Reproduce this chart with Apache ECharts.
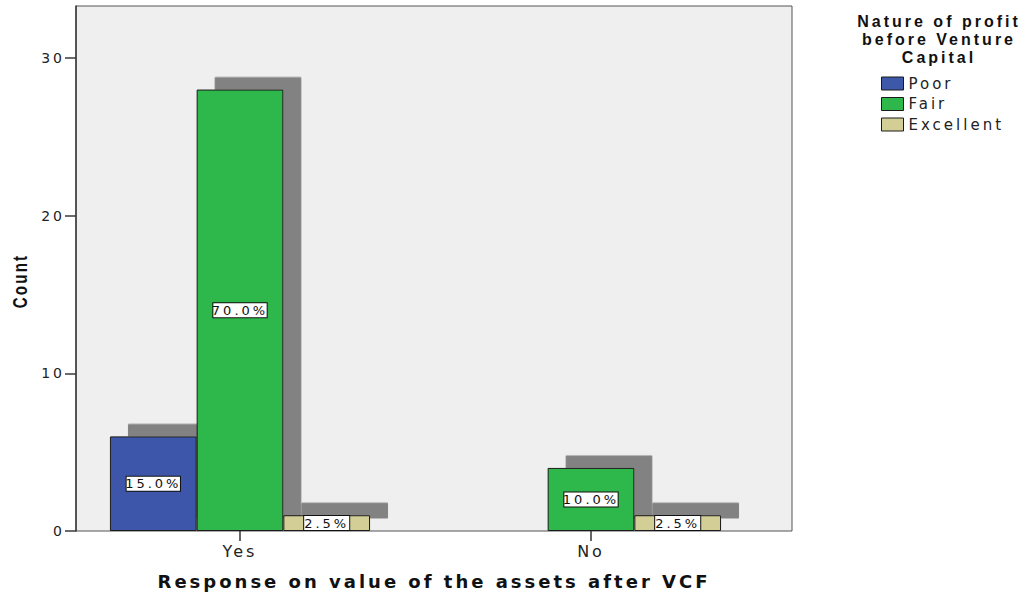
<!DOCTYPE html>
<html>
<head>
<meta charset="utf-8">
<script src="https://cdn.jsdelivr.net/npm/echarts@6/dist/echarts.min.js"></script>
<style>
  html, body { margin: 0; padding: 0; background: #fff; }
  #chart { width: 1026px; height: 597px; }
  /* SPSS draws its text with wide tracking */
  #chart svg text { letter-spacing: 3px; }
</style>
</head>
<body>
<div id="chart"></div>
<script>
// 数据
var categories = ['Yes', 'No'];
var seriesNames = ['Poor', 'Fair', 'Excellent'];
var poor = [6, 0];
var fair = [28, 4];
var excellent = [1, 1];
var yMax = 33.3;

var colors = ['#3d57a9', '#2eb74b', '#d3ce96'];
var total = poor.concat(fair, excellent).reduce(function (a, b) { return a + b; }, 0);

function makeSeries(name, values, color) {
    return {
        name: name,
        type: 'bar',
        xAxisIndex: 1,
        yAxisIndex: 1,
        barWidth: 86.7,
        barGap: '0%',
        // 0 → 不画
        data: values.map(function (v) { return v === 0 ? '-' : v; }),
        itemStyle: {
            color: color,
            borderColor: '#1a1a1a',
            borderWidth: 1,
            shadowColor: '#828282',
            shadowBlur: 0,
            shadowOffsetX: 18,
            shadowOffsetY: -12.5
        },
        label: {
            show: true,
            position: 'inside',
            formatter: function (p) { return (p.value / total * 100).toFixed(1) + '%'; },
            fontFamily: 'DejaVu Sans',
            fontSize: 13,
            lineHeight: 14,
            color: '#111',
            backgroundColor: '#fff',
            borderColor: '#111',
            borderWidth: 1,
            padding: [0, 6]
        },
        emphasis: { disabled: true }
    };
}

var chart = echarts.init(document.getElementById('chart'), null, { renderer: 'svg' });

chart.setOption({
    animation: false,
    title: {
        text: 'Nature of profit\nbefore Venture\nCapital',
        left: 939,
        top: 12,
        padding: 0,
        textAlign: 'center',
        textStyle: {
            fontFamily: 'Liberation Sans',
            fontWeight: 'bold',
            fontSize: 16,
            lineHeight: 18,
            color: '#111'
        }
    },
    legend: {
        orient: 'vertical',
        left: 876,
        top: 71,
        itemWidth: 22,
        itemHeight: 13,
        itemGap: 5.5,
        icon: 'rect',
        data: seriesNames,
        selectedMode: false,
        itemStyle: {
            borderColor: '#1a1a1a',
            borderWidth: 1,
            shadowColor: 'transparent',
            shadowOffsetX: 0,
            shadowOffsetY: 0
        },
        textStyle: {
            fontFamily: 'DejaVu Sans',
            fontSize: 15,
            color: '#222'
        }
    },
    graphic: [{
        type: 'text',
        x: 20,
        y: 281,
        rotation: Math.PI / 2,
        scaleX: 0.72,
        style: {
            text: 'Count',
            fontFamily: 'Liberation Sans',
            fontWeight: 'bold',
            fontSize: 21,
            fill: '#111',
            align: 'center',
            verticalAlign: 'middle'
        }
    }],
    grid: [
        // 外框 + y 轴
        {
            left: 76, top: 6, right: 234, bottom: 66,
            show: true,
            backgroundColor: '#efefef',
            borderColor: '#555',
            borderWidth: 1,
            outerBoundsMode: 'none'
        },
        // 放柱子的网格, 类目中心在 Yes=240, No=591
        {
            left: 64.5, width: 702, top: 6, bottom: 66,
            show: false,
            outerBoundsMode: 'none'
        }
    ],
    xAxis: [
        {
            gridIndex: 0,
            type: 'value',
            min: 0,
            max: 1,
            axisLine: { show: false },
            axisTick: { show: false },
            axisLabel: { show: false },
            splitLine: { show: false },
            name: 'Response on value of the assets after VCF',
            nameLocation: 'middle',
            nameGap: 41,
            nameTextStyle: {
                fontFamily: 'DejaVu Sans',
                fontWeight: 'bold',
                fontSize: 18,
                color: '#111'
            }
        },
        {
            gridIndex: 1,
            type: 'category',
            data: categories,
            axisLine: { show: false },
            axisTick: {
                show: true,
                alignWithLabel: true,
                length: 10,
                lineStyle: { color: '#333', width: 1.5 }
            },
            axisLabel: {
                margin: 12,
                fontFamily: 'DejaVu Sans',
                fontSize: 16,
                color: '#222'
            },
            splitLine: { show: false }
        }
    ],
    yAxis: [
        {
            gridIndex: 0,
            type: 'value',
            min: 0,
            max: yMax,
            interval: 10,
            axisLine: { show: true, lineStyle: { color: '#3a3a3a', width: 1.5 } },
            axisTick: { show: true, length: 11, lineStyle: { color: '#3a3a3a', width: 1.5 } },
            axisLabel: {
                margin: 11,
                fontFamily: 'DejaVu Sans',
                fontSize: 14,
                color: '#222',
                showMaxLabel: false
            },
            splitLine: { show: false }
        },
        {
            gridIndex: 1,
            type: 'value',
            min: 0,
            max: yMax,
            show: false
        }
    ],
    series: [
        makeSeries(seriesNames[0], poor, colors[0]),
        makeSeries(seriesNames[1], fair, colors[1]),
        makeSeries(seriesNames[2], excellent, colors[2])
    ]
});

window.onresize = function () {
    chart.resize();
};
</script>
</body>
</html>
